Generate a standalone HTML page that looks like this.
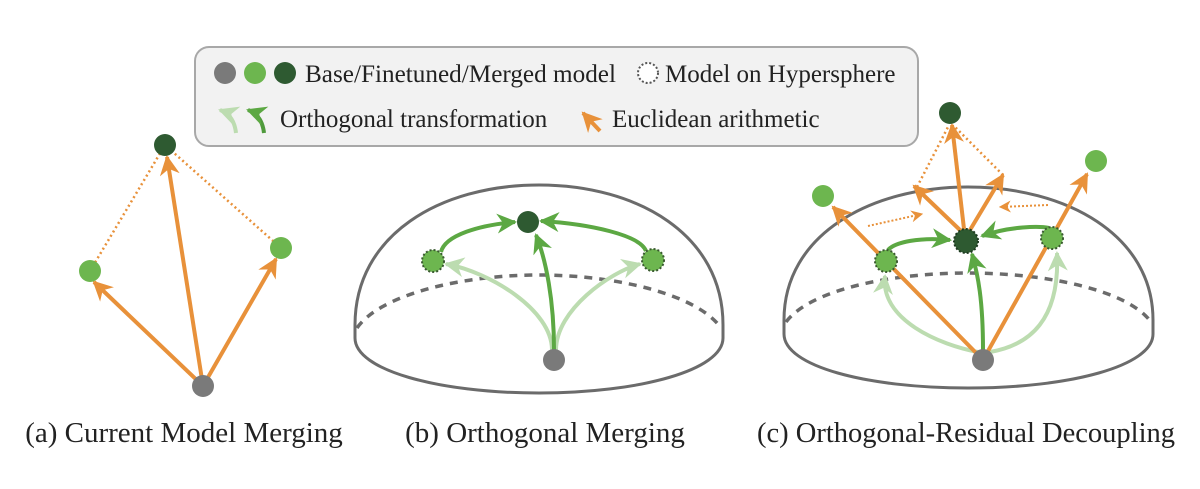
<!DOCTYPE html>
<html><head><meta charset="utf-8"><style>
html,body{margin:0;padding:0;background:#fff;}
svg{display:block;}
text{font-family:"Liberation Serif",serif;fill:#222;}
</style></head><body>
<svg width="1200" height="489" viewBox="0 0 1200 489" xmlns="http://www.w3.org/2000/svg">
<defs>
<marker id="ao" viewBox="0 0 10 10" refX="9" refY="5" markerWidth="5" markerHeight="5" orient="auto" markerUnits="strokeWidth"><path d="M0,0 L10,5 L0,10 L3,5 z" fill="#e8913a"/></marker>
<marker id="aos" viewBox="0 0 10 10" refX="9" refY="5" markerWidth="6" markerHeight="6" orient="auto" markerUnits="strokeWidth"><path d="M0,0 L10,5 L0,10 L3,5 z" fill="#e8913a"/></marker>
<marker id="ag" viewBox="0 0 10 10" refX="9" refY="5" markerWidth="5" markerHeight="5" orient="auto" markerUnits="strokeWidth"><path d="M0,0 L10,5 L0,10 L3,5 z" fill="#5ca843"/></marker>
<marker id="al" viewBox="0 0 10 10" refX="9" refY="5" markerWidth="5" markerHeight="5" orient="auto" markerUnits="strokeWidth"><path d="M0,0 L10,5 L0,10 L3,5 z" fill="#bcdcb0"/></marker>
</defs>

<!-- Legend -->
<rect x="195" y="47" width="723" height="99" rx="14" fill="#f2f2f2" stroke="#a8a8a8" stroke-width="2"/>
<circle cx="225" cy="73" r="11" fill="#7a7a7a"/>
<circle cx="255" cy="73" r="11" fill="#6db64f"/>
<circle cx="285" cy="73" r="11" fill="#2e5a31"/>
<text x="305" y="82" font-size="25" textLength="311" lengthAdjust="spacingAndGlyphs">Base/Finetuned/Merged model</text>
<circle cx="648" cy="73" r="10" fill="#fff" stroke="#555" stroke-width="2" stroke-dasharray="2 2"/>
<text x="665" y="82" font-size="25">Model on Hypersphere</text>
<path d="M236,133 Q234,115 220,110" fill="none" stroke="#bcdcb0" stroke-width="4" marker-end="url(#al)"/>
<path d="M264,133 Q262,115 248,110" fill="none" stroke="#4f9a3c" stroke-width="4" marker-end="url(#ag)"/>
<text x="280" y="127" font-size="25">Orthogonal transformation</text>
<line x1="600" y1="131" x2="583" y2="113" stroke="#e8913a" stroke-width="4" marker-end="url(#ao)"/>
<text x="612" y="127" font-size="25">Euclidean arithmetic</text>

<!-- (a) -->
<line x1="90" y1="271" x2="165" y2="145" stroke="#e8913a" stroke-width="2.5" stroke-dasharray="2 3"/>
<line x1="281" y1="248" x2="165" y2="145" stroke="#e8913a" stroke-width="2.5" stroke-dasharray="2 3"/>
<line x1="203" y1="386" x2="94" y2="282" stroke="#e8913a" stroke-width="4" marker-end="url(#ao)"/>
<line x1="203" y1="386" x2="167" y2="157" stroke="#e8913a" stroke-width="4" marker-end="url(#ao)"/>
<line x1="203" y1="386" x2="276" y2="259" stroke="#e8913a" stroke-width="4" marker-end="url(#ao)"/>
<circle cx="165" cy="145" r="11" fill="#2e5a31"/>
<circle cx="90" cy="271" r="11" fill="#6db64f"/>
<circle cx="281" cy="248" r="11" fill="#6db64f"/>
<circle cx="203" cy="386" r="11" fill="#7a7a7a"/>
<text x="184" y="442" font-size="29" text-anchor="middle">(a) Current Model Merging</text>

<!-- (b) -->
<path d="M355,338 L355,325 C355,235 440,185 539,185 C638,185 723,235 723,325 L723,338 C723,370 640,393 539,393 C438,393 355,370 355,338 Z" fill="none" stroke="#6b6b6b" stroke-width="3"/>
<path d="M357,328 C380,295 460,275 539,275 C618,275 698,295 721,328" fill="none" stroke="#6b6b6b" stroke-width="3.5" stroke-dasharray="8 7"/>
<path d="M552,350 C552,310 490,272 446,264" fill="none" stroke="#bcdcb0" stroke-width="4" marker-end="url(#al)"/>
<path d="M556,350 C556,310 610,272 640,264" fill="none" stroke="#bcdcb0" stroke-width="4" marker-end="url(#al)"/>
<path d="M554,350 C554,300 546,260 536,235" fill="none" stroke="#5ca843" stroke-width="4" marker-end="url(#ag)"/>
<path d="M441,252 C445,235 480,225 515,222" fill="none" stroke="#5ca843" stroke-width="4" marker-end="url(#ag)"/>
<path d="M646,251 C640,235 590,224 541,221" fill="none" stroke="#5ca843" stroke-width="4" marker-end="url(#ag)"/>
<circle cx="528" cy="222" r="11" fill="#2e5a31"/>
<circle cx="433" cy="261" r="11" fill="#6db64f" stroke="#3a5a30" stroke-width="2" stroke-dasharray="2 2"/>
<circle cx="653" cy="260" r="11" fill="#6db64f" stroke="#3a5a30" stroke-width="2" stroke-dasharray="2 2"/>
<circle cx="554" cy="360" r="11" fill="#7a7a7a"/>
<text x="545" y="442" font-size="29" text-anchor="middle">(b) Orthogonal Merging</text>

<!-- (c) -->
<path d="M784,334 L784,320 C784,235 870,187 968,187 C1066,187 1153,235 1153,320 L1153,334 C1153,366 1070,388 968,388 C866,388 784,366 784,334 Z" fill="none" stroke="#6b6b6b" stroke-width="3"/>
<path d="M786,322 C810,290 890,273 968,273 C1046,273 1128,290 1151,322" fill="none" stroke="#6b6b6b" stroke-width="3.5" stroke-dasharray="8 7"/>
<path d="M978,352 C940,345 880,320 885,276" fill="none" stroke="#bcdcb0" stroke-width="4" marker-end="url(#al)"/>
<path d="M990,352 C1030,345 1060,320 1057,253" fill="none" stroke="#bcdcb0" stroke-width="4" marker-end="url(#al)"/>
<line x1="983" y1="360" x2="833" y2="207" stroke="#e8913a" stroke-width="4" marker-end="url(#ao)"/>
<line x1="983" y1="360" x2="1087" y2="174" stroke="#e8913a" stroke-width="4" marker-end="url(#ao)"/>
<path d="M983,350 C983,300 978,275 972,254" fill="none" stroke="#5ca843" stroke-width="4" marker-end="url(#ag)"/>
<path d="M888,250 C895,242 920,237 950,240" fill="none" stroke="#5ca843" stroke-width="4" marker-end="url(#ag)"/>
<path d="M1049,228 C1040,226 1010,226 982,236" fill="none" stroke="#5ca843" stroke-width="4" marker-end="url(#ag)"/>
<line x1="917" y1="187" x2="948" y2="127" stroke="#e8913a" stroke-width="2.5" stroke-dasharray="2 3"/>
<line x1="1003" y1="175" x2="955" y2="127" stroke="#e8913a" stroke-width="2.5" stroke-dasharray="2 3"/>
<line x1="961" y1="231" x2="914" y2="186" stroke="#e8913a" stroke-width="4" marker-end="url(#ao)"/>
<line x1="964" y1="229" x2="952" y2="125" stroke="#e8913a" stroke-width="4" marker-end="url(#ao)"/>
<line x1="970" y1="230" x2="1003" y2="175" stroke="#e8913a" stroke-width="4" marker-end="url(#ao)"/>
<line x1="868" y1="226" x2="922" y2="214" stroke="#e8913a" stroke-width="2" stroke-dasharray="2 2" marker-end="url(#aos)"/>
<line x1="1048" y1="205" x2="1000" y2="207" stroke="#e8913a" stroke-width="2" stroke-dasharray="2 2" marker-end="url(#aos)"/>
<circle cx="950" cy="113" r="11" fill="#2e5a31"/>
<circle cx="823" cy="196" r="11" fill="#6db64f"/>
<circle cx="1096" cy="161" r="11" fill="#6db64f"/>
<circle cx="886" cy="261" r="11" fill="#6db64f" stroke="#3a5a30" stroke-width="2" stroke-dasharray="2 2"/>
<circle cx="966" cy="241" r="12" fill="#2e5a31" stroke="#1e3a20" stroke-width="2" stroke-dasharray="2 2"/>
<circle cx="1052" cy="238" r="11" fill="#6db64f" stroke="#3a5a30" stroke-width="2" stroke-dasharray="2 2"/>
<circle cx="983" cy="360" r="11" fill="#7a7a7a"/>
<text x="966" y="442" font-size="29" text-anchor="middle" textLength="418" lengthAdjust="spacingAndGlyphs">(c) Orthogonal-Residual Decoupling</text>
</svg>
</body></html>
